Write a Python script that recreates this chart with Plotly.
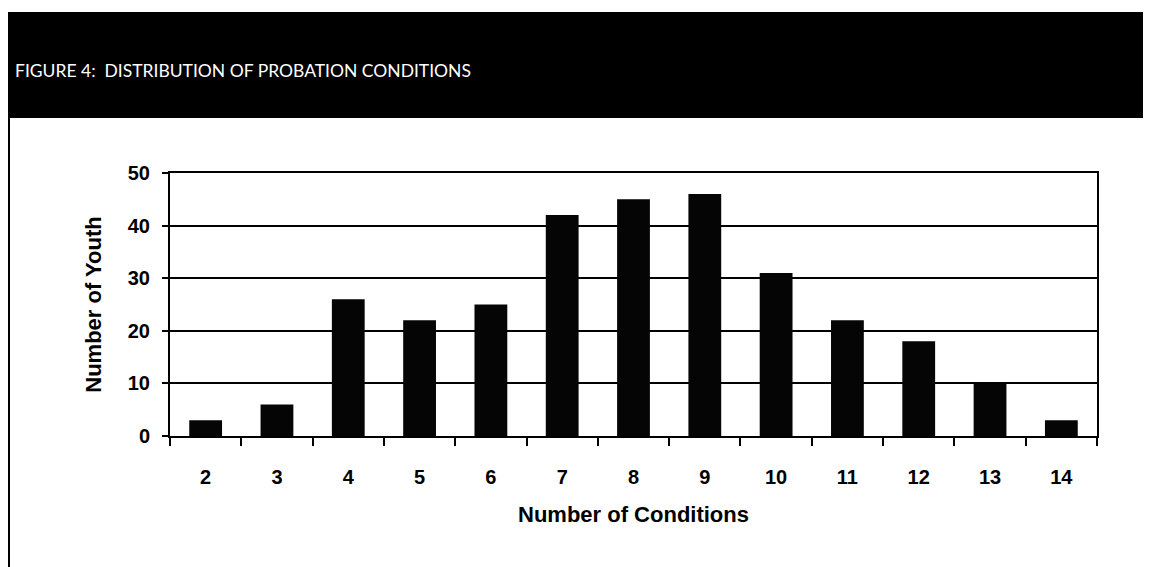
import plotly.graph_objects as go

conditions = ["2", "3", "4", "5", "6", "7", "8", "9", "10", "11", "12", "13", "14"]
youth = [3, 6, 26, 22, 25, 42, 45, 46, 31, 22, 18, 10, 3]
y_ticks = [0, 10, 20, 30, 40, 50]

title_text = "FIGURE 4:  DISTRIBUTION OF PROBATION CONDITIONS"
x_title = "Number of Conditions"
y_title = "Number of Youth"

W, H = 1151, 567
OFF = 8  # page body margin
# target page coordinates of the plot area
P_L, P_R, P_T, P_B = 170, 1097, 173, 436
L, T = P_L - OFF, P_T - OFF
R = W - (P_R - OFF)
B = H - (P_B - OFF)
pw, ph = W - L - R, H - T - B

def px(x):
    return (x - OFF - L) / pw

def py(y):
    return (H - B - (y - OFF)) / ph

fig = go.Figure(go.Bar(
    x=conditions, y=youth,
    marker=dict(color="#050505", line=dict(width=0)),
    width=0.46,
))

tick_font = dict(family="Liberation Sans, Arial, sans-serif", size=20, color="black", weight="bold")
title_font = dict(family="Liberation Sans, Arial, sans-serif", size=22, color="black", weight="bold")

fig.update_layout(
    width=W, height=H,
    margin=dict(l=L, r=R, t=T, b=B),
    paper_bgcolor="white", plot_bgcolor="white",
    showlegend=False,
    xaxis=dict(
        type="category", tickson="boundaries", ticks="outside", ticklen=8,
        tickwidth=2, tickcolor="black", showline=True, linecolor="black",
        linewidth=2, mirror=True, showgrid=False,
        tickfont=tick_font, ticklabelstandoff=22,
        title=dict(text=x_title, font=title_font, standoff=20),
    ),
    yaxis=dict(
        range=[0, 50], tickvals=y_ticks, ticks="outside", ticklen=6,
        tickwidth=2, tickcolor="black", showline=True, linecolor="black",
        linewidth=2, mirror=True, showgrid=True, gridcolor="black",
        gridwidth=2, zeroline=False,
        tickfont=tick_font, ticklabelstandoff=8,
        title=dict(text=y_title, font=title_font, standoff=20),
    ),
    shapes=[
        dict(type="rect", xref="paper", yref="paper",
             x0=px(8), x1=px(1160), y0=py(118), y1=py(12),
             fillcolor="black", line=dict(width=0), layer="below"),
        dict(type="line", xref="paper", yref="paper",
             x0=px(9), x1=px(9), y0=py(118), y1=py(580),
             line=dict(color="black", width=2)),
    ],
    annotations=[
        dict(text=title_text, xref="paper", yref="paper",
             x=px(13), y=py(70), xanchor="left", yanchor="middle",
             showarrow=False,
             font=dict(family="Lato, Open Sans, sans-serif", size=17.5, color="white")),
    ],
)

fig.write_html("out.html")
